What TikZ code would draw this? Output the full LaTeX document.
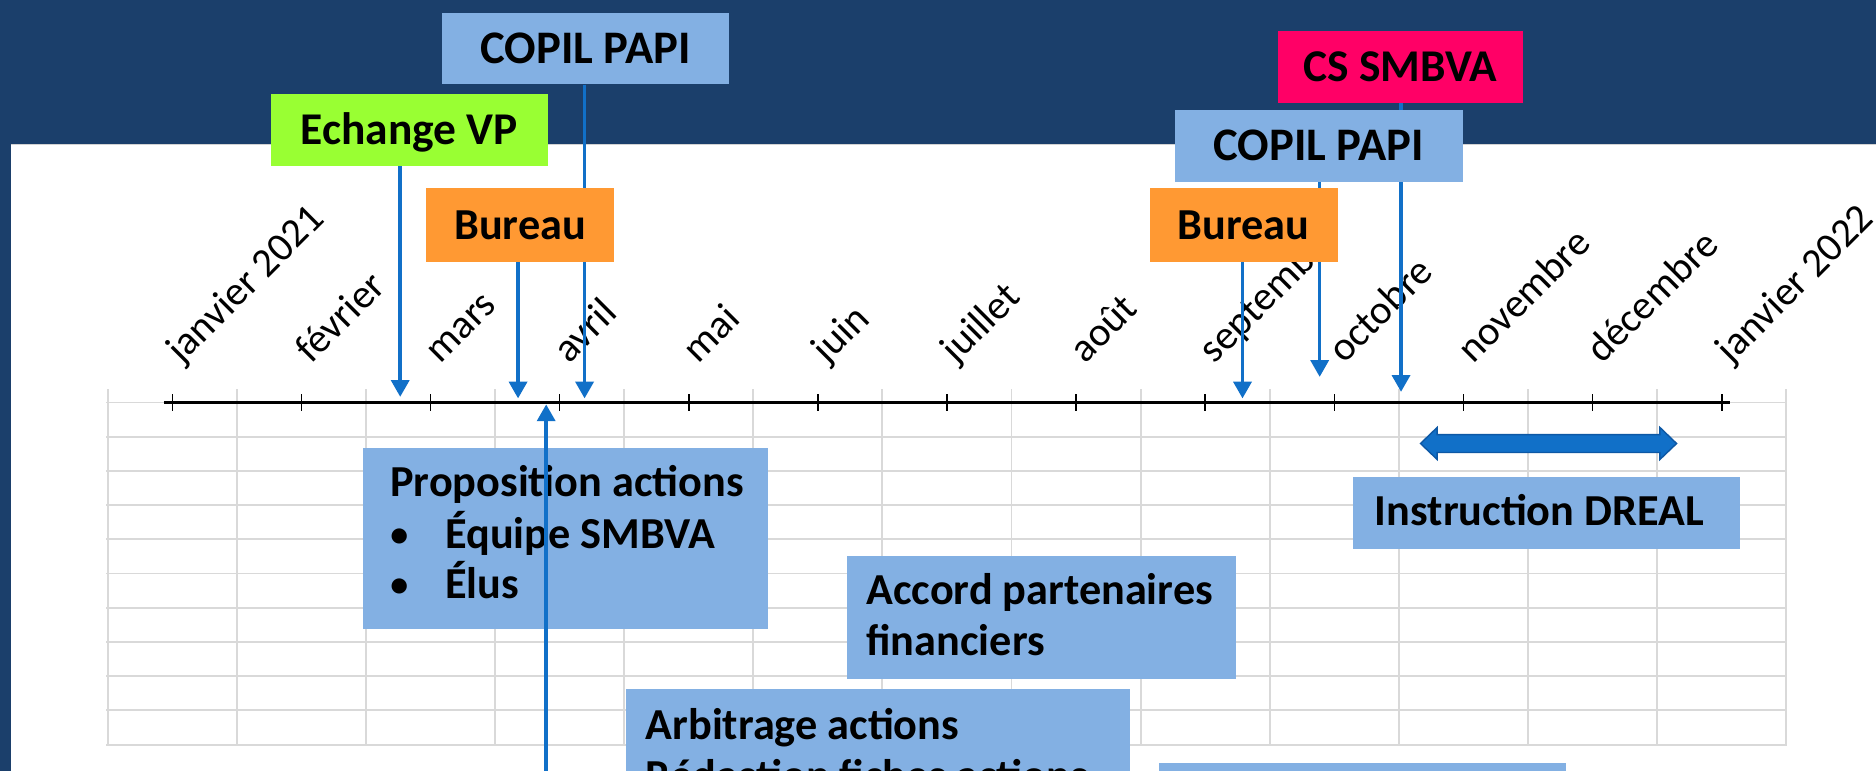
\documentclass[tikz,border=0pt]{standalone}
\usepackage{fontspec}
\setmainfont{Carlito}
\usetikzlibrary{arrows.meta}
\definecolor{hdr}{HTML}{1B3F6B}
\definecolor{lblue}{HTML}{83B0E3}
\definecolor{vgreen}{HTML}{99FF33}
\definecolor{orng}{HTML}{FF9933}
\definecolor{mag}{HTML}{FF0066}
\definecolor{arrblue}{HTML}{1170C8}
\definecolor{arrdark}{HTML}{0D58A5}
\definecolor{gridc}{HTML}{D9D9D9}
\pgfdeclarelayer{background}
\pgfdeclarelayer{arrowlayer}
\pgfdeclarelayer{front}
\pgfsetlayers{background,arrowlayer,main,front}
\newcommand{\bul}{\makebox[46pt][l]{\raisebox{2pt}{\fontsize{30}{30}\selectfont •}}}
\begin{document}
\begin{tikzpicture}[x=1pt,y=-1pt,
  box/.style={inner sep=0pt, text depth=0pt},
  fA/.style={font=\bfseries\fontsize{39}{46}\selectfont, text height=25pt},
  fB/.style={font=\bfseries\fontsize{38}{45}\selectfont, text height=24.5pt},
  fC/.style={font=\bfseries\fontsize{37}{44}\selectfont, text height=23.8pt},
  plainbox/.style={inner sep=0pt, fill=lblue},
  boxtext/.style={inner sep=0pt, anchor=base west, font=\bfseries\fontsize{37}{44}\selectfont},
  month/.style={font=\fontsize{34}{40}\selectfont, rotate=45, anchor=base west, inner sep=0pt},
  evarrow/.style={draw=arrblue, line width=3pt, -{Triangle[width=15pt,length=14pt]}},
  gridline/.style={draw=gridc, line width=1.6pt},
]
\useasboundingbox (0,0) rectangle (1568,644);

\begin{pgfonlayer}{background}
  \fill[hdr] (0,0) rectangle (1568,644);
  \fill[white] (9,120) rectangle (1568,644);
  \draw[gray!35, line width=1pt] (9,120.5) -- (1568,120.5);
  % grid
  \foreach \k in {0,...,13}
    \draw[gridline] (90+107.92*\k,325.5) -- (90+107.92*\k,622.3);
  \foreach \j in {0,...,10}
    \draw[gridline] (89,336.4+28.59*\j) -- (1493.3,336.4+28.59*\j);
  % axis
  \draw[line width=3.3pt] (137,336.4) -- (1446,336.4);
  \foreach \i in {0,...,12}
    \draw[line width=1.3pt] (144+107.92*\i,329.5) -- (144+107.92*\i,343.6);
  % months
  \foreach \m [count=\i from 0] in {janvier 2021,février,mars,avril,mai,juin,juillet,août,septembre,octobre,novembre,décembre,janvier 2022}
    \node[month] (m\i) at (152+107.92*\i,305) {\m};
\end{pgfonlayer}

% top event boxes
\node[box, fA, fill=lblue, minimum width=240pt, minimum height=59.5pt] (copil1) at (489.5,40.7) {COPIL PAPI};
\node[box, fB, fill=vgreen, minimum width=231.5pt, minimum height=60pt] (echange) at (342.2,108.5) {Echange VP};
\node[box, fC, fill=orng, minimum width=157.5pt, minimum height=61.5pt] (bureau1) at (434.8,188) {Bureau};
\node[box, fB, fill=mag, minimum width=204.5pt, minimum height=60pt] (cs) at (1170.3,56) {CS SMBVA};
\node[box, fA, fill=lblue, minimum width=240.5pt, minimum height=60pt] (copil2) at (1102.3,122) {COPIL PAPI};
\node[box, fC, fill=orng, minimum width=157pt, minimum height=62pt] (bureau2) at (1039.5,188) {Bureau};

% arrow tips
\coordinate (tipE) at (334.5,331.7);
\coordinate (tipC1) at (488.6,333);
\coordinate (tipB1) at (433,333);
\coordinate (tipB2) at (1038.5,333);
\coordinate (tipC2) at (1103,315);
\coordinate (tipCS) at (1171,327.5);
\coordinate (upstart) at (456.5,700);
\coordinate (uptip) at (456.5,338);

\begin{pgfonlayer}{arrowlayer}
  \draw[evarrow] (echange.south -| tipE) -- (tipE);
  \draw[evarrow] (copil1.south -| tipC1) -- (tipC1);
  \draw[evarrow] (bureau1.south -| tipB1) -- (tipB1);
  \draw[evarrow] (bureau2.south -| tipB2) -- (tipB2);
  \draw[evarrow] (copil2.south -| tipC2) -- (tipC2);
  \draw[evarrow] (cs.south -| tipCS) -- (tipCS);
\end{pgfonlayer}

% lower boxes
\node[plainbox, minimum width=338pt, minimum height=150.8pt] (prop) at (472.6,450.2) {};
\node[boxtext] (prop1) at (326,415.3) {Proposition actions};
\node[boxtext] (prop2) at (326,458.5) {\bul Équipe SMBVA};
\node[boxtext] (prop3) at (326,500.5) {\bul Élus};

\node[plainbox, minimum width=325pt, minimum height=102.5pt] (accord) at (870.8,516.2) {};
\node[boxtext] (acc1) at (724,505) {Accord partenaires};
\node[boxtext] (acc2) at (724,547.7) {financiers};

\node[plainbox, minimum width=323pt, minimum height=59.7pt] (instr) at (1292.5,428.9) {};
\node[boxtext] (instrt) at (1149,439.5) {Instruction DREAL};

\node[plainbox, minimum width=421.6pt, minimum height=144pt] (arbit) at (733.6,648) {};
\node[boxtext] (arb1) at (539.5,618) {Arbitrage actions};
\node[boxtext] (arb2) at (539.5,661) {Rédaction fiches actions};

\node[plainbox, minimum width=340.4pt, minimum height=82pt] (box11) at (1138.8,679) {};

% double arrow (Instruction DREAL period)
\filldraw[fill=arrblue, draw=arrdark, line width=1.2pt, line join=miter]
  (1187.3,370.7) -- (1201.2,357.3) -- (1201.2,363.2) -- (1387.4,363.2) -- (1387.4,357.3)
  -- (1401.3,370.7) -- (1387.4,384) -- (1387.4,378.2) -- (1201.2,378.2) -- (1201.2,384) -- cycle;

\begin{pgfonlayer}{front}
  \draw[evarrow] (upstart) -- (uptip);
\end{pgfonlayer}
\end{tikzpicture}
\end{document}
